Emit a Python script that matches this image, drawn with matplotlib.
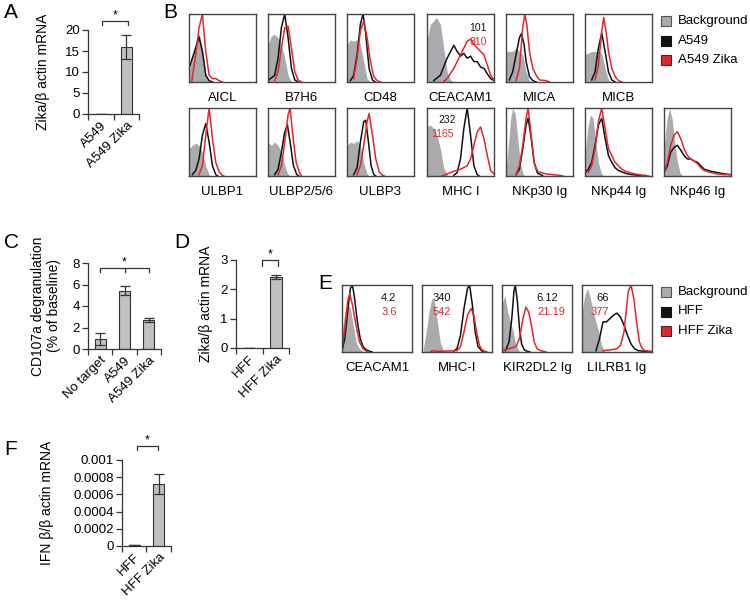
import numpy as np
import matplotlib.pyplot as plt
from matplotlib.lines import Line2D

plt.rcParams['font.family'] = ['Liberation Sans', 'DejaVu Sans']

W, H = 750, 600
GRAY = '#a9abae'
RED = '#e3262c'
BLACK = '#111111'
BAR = '#c0c0c0'
EDGE = '#333333'

# ---- bar chart data ----
A_labels = ["A549", "A549 Zika"]
A_values = [0, 16.0]
A_err = [0, 2.9]

C_labels = ["No target", "A549", "A549 Zika"]
C_values = [0.95, 5.43, 2.68]
C_err = [0.55, 0.43, 0.2]

D_labels = ["HFF", "HFF Zika"]
D_values = [0, 2.42]
D_err = [0, 0.07]

F_labels = ["HFF", "HFF Zika"]
F_values = [0.00001, 0.00072]
F_err = [0.000004, 0.00012]

# ---- flow histograms (x: normalised log fluorescence, y: fraction of max) ----
B_markers = ["AICL", "B7H6", "CD48", "CEACAM1", "MICA", "MICB",
             "ULBP1", "ULBP2/5/6", "ULBP3", "MHC I", "NKp30 Ig", "NKp44 Ig", "NKp46 Ig"]
B_background = [
    [(0, .15), (.05, .4), (.1, .6), (.15, .72), (.2, .5), (.25, .1), (.3, 0)],
    [(0, .55), (.05, .68), (.1, .7), (.15, .65), (.2, .55), (.25, .35), (.3, .1), (.35, 0)],
    [(0, .55), (.05, .62), (.1, .6), (.15, .62), (.2, .55), (.25, .3), (.3, .05), (.35, 0)],
    [(0, .6), (.05, .85), (.1, .9), (.14, .95), (.2, .85), (.25, .5), (.3, .15), (.35, .03), (.4, 0)],
    [(0, .45), (.1, .45), (.15, .5), (.2, .45), (.25, .4), (.3, .15), (.35, .02), (.4, 0)],
    [(0, .4), (.1, .45), (.2, .45), (.25, .42), (.3, .2), (.35, .03), (.4, 0)],
    [(0, .4), (.05, .45), (.1, .48), (.15, .45), (.2, .35), (.25, .15), (.3, .02), (.33, 0)],
    [(0, .5), (.05, .45), (.1, .5), (.15, .45), (.2, .35), (.25, .15), (.3, .02), (.33, 0)],
    [(0, .45), (.05, .5), (.1, .48), (.15, .52), (.2, .45), (.25, .2), (.3, .03), (.33, 0)],
    [(0, .72), (.05, .75), (.1, .7), (.15, .6), (.2, .4), (.25, .12), (.3, .02), (.33, 0)],
    [(0, .1), (.03, .4), (.07, .85), (.1, 1.0), (.14, .9), (.18, .5), (.22, .15), (.26, .02), (.28, 0)],
    [(0, .3), (.04, .7), (.08, .9), (.12, .85), (.16, .5), (.2, .2), (.24, .05), (.28, 0)],
    [(0, .4), (.04, .8), (.08, 1.0), (.12, .85), (.16, .5), (.2, .2), (.24, .05), (.28, 0)],
]
B_a549 = [
    [(0, .2), (.05, .35), (.1, .5), (.15, .66), (.2, .45), (.25, .1), (.3, .02), (.35, 0)],
    [(0, .02), (.1, .1), (.15, .35), (.2, .8), (.25, 1.0), (.3, .65), (.35, .2), (.4, .03), (.45, 0)],
    [(.05, .02), (.1, .1), (.15, .4), (.2, .85), (.24, 1.0), (.28, .7), (.33, .2), (.38, .03), (.42, 0)],
    [(.1, .02), (.2, .1), (.3, .35), (.4, .54), (.45, .45), (.5, .38), (.55, .42), (.6, .35), (.65, .38),
     (.7, .3), (.75, .3), (.8, .22), (.85, .2), (.9, .12), (.95, .05), (1.0, .02)],
    [(.05, .03), (.1, .15), (.15, .4), (.2, .65), (.23, .71), (.27, .55), (.3, .3), (.35, .08), (.4, .02), (.45, 0)],
    [(.1, .03), (.15, .15), (.2, .5), (.25, .72), (.3, .45), (.35, .15), (.4, .03), (.45, 0)],
    [(.05, .02), (.1, .08), (.15, .25), (.2, .6), (.25, .77), (.3, .5), (.35, .15), (.4, .02), (.43, 0)],
    [(.1, .02), (.15, .1), (.2, .35), (.25, .65), (.29, .75), (.33, .5), (.38, .15), (.43, .02), (.46, 0)],
    [(.1, .02), (.15, .12), (.2, .5), (.25, .8), (.28, .82), (.32, .5), (.36, .15), (.4, .02), (.43, 0)],
    [(.4, .01), (.45, .05), (.5, .25), (.55, .7), (.6, 1.0), (.65, .6), (.7, .15), (.75, .02), (.78, 0)],
    [(.15, .02), (.2, .1), (.25, .4), (.3, .75), (.33, .85), (.37, .6), (.42, .2), (.47, .04), (.52, .02), (.55, 0)],
    [(0, .05), (.05, .1), (.1, .2), (.15, .45), (.2, .75), (.25, .85), (.3, .55), (.35, .3), (.4, .2), (.45, .12),
     (.5, .08), (.6, .04), (.7, .02), (.8, .01), (.85, 0)],
    [(0, .05), (.05, .15), (.1, .35), (.15, .42), (.2, .45), (.25, .38), (.3, .3), (.35, .25), (.4, .25),
     (.45, .22), (.5, .2), (.55, .15), (.6, .1), (.7, .07), (.8, .05), (.9, .03), (1.0, .02)],
]
B_a549_zika = [
    [(.04, 0), (.1, .4), (.15, .8), (.2, 1.0), (.25, .45), (.3, .1), (.35, .05), (.4, .05), (.45, .02), (.5, 0)],
    [(.1, .02), (.15, .15), (.2, .5), (.25, .8), (.3, .82), (.35, .5), (.4, .15), (.45, .03), (.5, 0)],
    [(.1, .05), (.15, .35), (.2, .75), (.25, .9), (.3, .65), (.35, .3), (.4, .08), (.45, .02), (.5, 0)],
    [(.25, .01), (.3, .05), (.4, .2), (.5, .4), (.55, .5), (.6, .6), (.65, .63), (.7, .55), (.75, .5),
     (.8, .45), (.85, .4), (.9, .25), (.95, .1), (1.0, .03)],
    [(.15, .02), (.2, .2), (.25, .8), (.28, 1.0), (.31, .85), (.35, .45), (.4, .2), (.45, .1), (.5, .03), (.6, .02), (.65, 0)],
    [(.15, .03), (.2, .25), (.25, .75), (.28, .95), (.32, .7), (.35, .45), (.4, .2), (.45, .08), (.5, .02), (.55, 0)],
    [(.15, .02), (.2, .15), (.25, .6), (.3, 1.0), (.35, .55), (.4, .2), (.45, .06), (.5, .01), (.52, 0)],
    [(.15, .02), (.2, .15), (.25, .5), (.3, .9), (.33, 1.0), (.37, .6), (.42, .2), (.47, .05), (.5, 0)],
    [(.15, .02), (.2, .15), (.25, .45), (.3, .8), (.33, .92), (.38, .6), (.43, .25), (.48, .06), (.53, .01), (.56, 0)],
    [(.22, 0), (.25, .01), (.3, .03), (.4, .07), (.5, .1), (.6, .15), (.65, .25), (.7, .45), (.75, .65),
     (.8, .72), (.85, .55), (.9, .3), (.95, .08), (1.0, .03)],
    [(.15, .02), (.2, .15), (.25, .45), (.3, .85), (.33, 1.0), (.37, .65), (.42, .2), (.47, .07), (.52, .05),
     (.6, .03), (.7, .02), (.8, .01), (.85, 0)],
    [(.05, .05), (.1, .15), (.15, .4), (.2, .8), (.25, 1.0), (.3, .7), (.35, .4), (.4, .3), (.45, .2),
     (.5, .15), (.55, .1), (.6, .07), (.7, .04), (.8, .02), (.9, .01), (.95, 0)],
    [(0, .05), (.05, .2), (.1, .45), (.15, .6), (.2, .65), (.25, .55), (.3, .4), (.35, .3), (.4, .25),
     (.45, .22), (.5, .18), (.55, .12), (.6, .08), (.7, .05), (.8, .03), (.9, .02), (1.0, .02)],
]
B_mfi = {"CEACAM1": ("101", "810", (.76, .79), (.76, .59)),
         "MHC I": ("232", "1165", (.3, .82), (.23, .62))}

E_markers = ["CEACAM1", "MHC-I", "KIR2DL2 Ig", "LILRB1 Ig"]
E_background = [
    [(0, .3), (.04, .6), (.08, .72), (.12, .65), (.16, .4), (.2, .15), (.25, .05), (.3, 0)],
    [(.02, .05), (.06, .3), (.1, .6), (.14, .8), (.18, .75), (.22, .45), (.26, .15), (.3, .03), (.34, 0)],
    [(0, .7), (.04, .85), (.08, .6), (.12, .45), (.16, .3), (.2, .1), (.24, .02), (.27, 0)],
    [(0, .6), (.04, .85), (.08, .95), (.12, .8), (.16, .6), (.2, .45), (.24, .3), (.28, .1), (.32, .02), (.34, 0)],
]
E_hff = [
    [(0, .02), (.04, .2), (.08, .6), (.12, .95), (.15, 1.0), (.18, .8), (.22, .45), (.26, .2), (.3, .08),
     (.35, .03), (.4, .01), (.43, 0)],
    [(.45, .01), (.5, .05), (.55, .25), (.6, .65), (.65, .95), (.68, 1.0), (.72, .7), (.76, .3), (.8, .08),
     (.85, .02), (.88, 0)],
    [(.05, .02), (.1, .15), (.14, .5), (.17, .9), (.19, 1.0), (.22, .75), (.25, .35), (.28, .12), (.32, .03),
     (.36, .01), (.4, 0)],
    [(.2, .02), (.25, .2), (.3, .45), (.35, .45), (.4, .5), (.45, .55), (.5, .58), (.55, .52), (.6, .4),
     (.65, .25), (.7, .12), (.75, .05), (.8, .02), (.9, .01), (.95, 0)],
]
E_hff_zika = [
    [(0, .05), (.04, .35), (.08, .75), (.11, .87), (.15, .7), (.2, .4), (.25, .15), (.3, .05), (.35, .01), (.38, 0)],
    [(.12, 0), (.15, .02), (.2, .01), (.5, .02), (.55, .08), (.6, .3), (.65, .55), (.7, .65), (.74, .55),
     (.78, .3), (.82, .1), (.86, .03), (.9, .01), (.93, 0)],
    [(0, .02), (.1, .05), (.2, .08), (.25, .2), (.3, .5), (.34, .67), (.38, .6), (.42, .4), (.46, .15),
     (.5, .05), (.55, .02), (.6, .01), (.63, 0)],
    [(.3, .02), (.4, .03), (.5, .05), (.55, .1), (.6, .3), (.63, .6), (.66, .9), (.7, 1.0), (.74, .8),
     (.78, .45), (.82, .15), (.86, .05), (.9, .02), (1.0, .01)],
]
E_mfi = [("4.2", "3.6", (.67, .81), (.67, .6)),
         ("340", "542", (.29, .81), (.29, .6)),
         ("6.12", "21.19", (.64, .81), (.71, .6)),
         ("66", "377", (.3, .81), (.26, .6))]


def px_axes(fig, l, t, r, b):
    return fig.add_axes([l / W, 1 - b / H, (r - l) / W, (b - t) / H])


def hist_panel(ax, bg, ctrl, zika, label):
    xb, yb = zip(*bg)
    ax.fill_between(xb, yb, color=GRAY, lw=0)
    ax.plot(*zip(*ctrl), color=BLACK, lw=1.1)
    ax.plot(*zip(*zika), color=RED, lw=1.1)
    ax.set_xlim(0, 1)
    ax.set_ylim(0, 1.0)
    ax.set_xticks([])
    ax.set_yticks([])
    for s in ax.spines.values():
        s.set_color('#444444')
        s.set_linewidth(1.0)
    ax.text(0.5, -0.15, label, transform=ax.transAxes, ha='center', va='top', fontsize=9.5)


def bar_panel(ax, labels, values, errs, top, yticks, yticklabels, ylabel, labelpad=4):
    x = np.arange(len(labels))
    ax.bar(x, values, width=0.45, color=BAR, edgecolor=EDGE, lw=0.8, yerr=errs,
           error_kw=dict(ecolor=EDGE, elinewidth=0.9, capsize=3.5, capthick=0.9))
    ax.set_xlim(-0.5, len(labels) - 0.5)
    ax.set_ylim(0, top)
    ax.set_xticks(x)
    ax.set_xticklabels(labels, rotation=45, ha='right', rotation_mode='anchor', fontsize=9.5)
    ax.set_xticks(np.arange(len(labels) + 1) - 0.5, minor=True)
    ax.tick_params(axis='x', which='major', length=0, pad=4)
    ax.tick_params(axis='x', which='minor', length=4, width=0.9, color=EDGE)
    ax.set_yticks(yticks)
    ax.set_yticklabels(yticklabels, fontsize=9.5)
    ax.tick_params(axis='y', length=4, width=0.9, color=EDGE, pad=2)
    ax.spines[['top', 'right']].set_visible(False)
    for s in ['left', 'bottom']:
        ax.spines[s].set_color(EDGE)
        ax.spines[s].set_linewidth(0.9)
    ax.set_ylabel(ylabel, fontsize=10, labelpad=labelpad)


def bracket(ax, x0, x1, y, drop, mids=()):
    xs = [x0, x0, x1, x1]
    ys = [y - drop, y, y, y - drop]
    ax.plot(xs, ys, color=EDGE, lw=0.9, clip_on=False)
    for m in mids:
        ax.plot([m, m], [y, y - drop], color=EDGE, lw=0.9, clip_on=False)
    ax.text((x0 + x1) / 2, y, "*", ha='center', va='bottom', fontsize=9, clip_on=False)


def legend(fig, x, y0, names, step=19.5):
    styles = [(GRAY, '#555555'), (BLACK, BLACK), (RED, '#333333')]
    for i, (name, (fc, ec)) in enumerate(zip(names, styles)):
        yy = 1 - (y0 + i * step) / H
        fig.add_artist(Line2D([x / W], [yy], marker='s', ms=7.5, mfc=fc, mec=ec, mew=0.8,
                              transform=fig.transFigure))
        fig.text((x + 12) / W, yy, name, ha='left', va='center', fontsize=9.5)


fig = plt.figure(figsize=(7.5, 6), dpi=100)

# panel letters
for letter, (lx, ly) in {"A": (4, 3), "B": (163, 3), "C": (4, 233), "D": (174, 233),
                         "E": (318, 274), "F": (4, 440)}.items():
    fig.text(lx / W, 1 - ly / H, letter, fontsize=15, ha='left', va='top')

# A
axA = px_axes(fig, 88, 30, 139, 114)
bar_panel(axA, A_labels, A_values, A_err, 20, [0, 5, 10, 15, 20],
          ["0", "5", "10", "15", "20"], "Zika/β actin mRNA", labelpad=11)
bracket(axA, 0.05, 1.05, 22.1, 0.9)

# B histograms
B_lefts_top = [189, 268, 347, 427, 506, 585]
B_lefts_bot = [189, 268, 347, 427, 506, 585, 664]
B_pos = [(l, 14, l + 67, 82) for l in B_lefts_top] + [(l, 108, l + 67, 176) for l in B_lefts_bot]
for i, name in enumerate(B_markers):
    ax = px_axes(fig, *B_pos[i])
    hist_panel(ax, B_background[i], B_a549[i], B_a549_zika[i], name)
    if name in B_mfi:
        t1, t2, p1, p2 = B_mfi[name]
        ax.text(*p1, t1, transform=ax.transAxes, ha='center', va='center', fontsize=7.5, color=BLACK)
        ax.text(*p2, t2, transform=ax.transAxes, ha='center', va='center', fontsize=7.5, color=RED)
legend(fig, 666, 21, ["Background", "A549", "A549 Zika"])

# C
axC = px_axes(fig, 88, 263, 161, 349)
bar_panel(axC, C_labels, C_values, C_err, 8, [0, 2, 4, 6, 8], ["0", "2", "4", "6", "8"],
          "CD107a degranulation\n(% of baseline)", labelpad=8)
bracket(axC, 0, 2, 7.5, 0.35, mids=[1])

# D
axD = px_axes(fig, 236, 260, 289, 348)
bar_panel(axD, D_labels, D_values, D_err, 3, [0, 1, 2, 3], ["0", "1", "2", "3"],
          "Zika/β actin mRNA", labelpad=5)
bracket(axD, 0.48, 1.08, 3.0, 0.2)

# E histograms
E_lefts = [342, 422, 502, 582]
for i, name in enumerate(E_markers):
    ax = px_axes(fig, E_lefts[i], 285, E_lefts[i] + 70, 352)
    hist_panel(ax, E_background[i], E_hff[i], E_hff_zika[i], name)
    t1, t2, p1, p2 = E_mfi[i]
    ax.text(*p1, t1, transform=ax.transAxes, ha='center', va='center', fontsize=8, color=BLACK)
    ax.text(*p2, t2, transform=ax.transAxes, ha='center', va='center', fontsize=8, color=RED)
legend(fig, 666, 292, ["Background", "HFF", "HFF Zika"])

# F
axF = px_axes(fig, 122, 460, 171, 546)
bar_panel(axF, F_labels, F_values, F_err, 0.001,
          [0, 0.0002, 0.0004, 0.0006, 0.0008, 0.001],
          ["0", "0.0002", "0.0004", "0.0006", "0.0008", "0.001"],
          "IFN β/β actin mRNA", labelpad=14)
bracket(axF, 0.11, 0.97, 0.00116, 0.00004)

fig.savefig("out.png", dpi=100)
